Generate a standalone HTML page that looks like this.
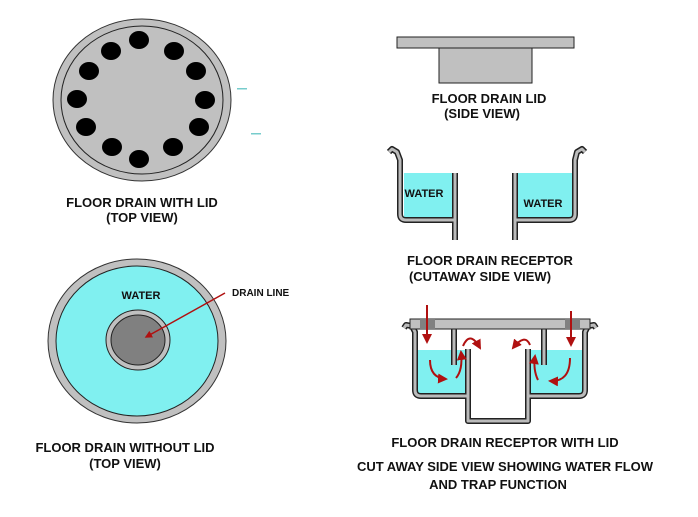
<!DOCTYPE html>
<html><head><meta charset="utf-8"><style>
html,body{margin:0;padding:0;background:#fff;}
svg{display:block;}
text{font-family:"Liberation Sans",Arial,sans-serif;font-weight:bold;fill:#111;}
</style></head><body>
<svg width="698" height="517" viewBox="0 0 698 517" xmlns="http://www.w3.org/2000/svg">
<defs>
<marker id="ah" viewBox="0 0 10 10" refX="8" refY="5" markerWidth="5" markerHeight="5" orient="auto"><path d="M0,0 L10,5 L0,10 z" fill="#b01010"/></marker>
</defs>
<!-- top view with lid -->
<ellipse cx="142" cy="100" rx="89" ry="81" fill="#c0c0c0" stroke="#333" stroke-width="1"/>
<ellipse cx="142" cy="100" rx="81" ry="74" fill="#c0c0c0" stroke="#222" stroke-width="1"/>
<g fill="#000">
<ellipse cx="139" cy="40" rx="10" ry="9"/><ellipse cx="111" cy="51" rx="10" ry="9"/><ellipse cx="174" cy="51" rx="10" ry="9"/>
<ellipse cx="89" cy="71" rx="10" ry="9"/><ellipse cx="196" cy="71" rx="10" ry="9"/><ellipse cx="77" cy="99" rx="10" ry="9"/>
<ellipse cx="205" cy="100" rx="10" ry="9"/><ellipse cx="86" cy="127" rx="10" ry="9"/><ellipse cx="199" cy="127" rx="10" ry="9"/>
<ellipse cx="112" cy="147" rx="10" ry="9"/><ellipse cx="173" cy="147" rx="10" ry="9"/><ellipse cx="139" cy="159" rx="10" ry="9"/>
</g>
<rect x="237" y="88" width="10" height="1.5" fill="#7cc"/><rect x="251" y="133" width="10" height="1.5" fill="#7cc"/>
<text x="142" y="207" font-size="13" text-anchor="middle">FLOOR DRAIN WITH LID</text>
<text x="142" y="222" font-size="13" text-anchor="middle">(TOP VIEW)</text>

<!-- top view without lid -->
<ellipse cx="137" cy="341" rx="89" ry="82" fill="#c0c0c0" stroke="#333" stroke-width="1"/>
<ellipse cx="137" cy="341" rx="81" ry="75" fill="#80f0f0" stroke="#222" stroke-width="1"/>
<ellipse cx="138" cy="340" rx="32" ry="30" fill="#c0c0c0" stroke="#222" stroke-width="1"/>
<ellipse cx="138" cy="340" rx="27" ry="25" fill="#808080" stroke="#222" stroke-width="1"/>
<text x="141" y="299" font-size="11" text-anchor="middle">WATER</text>
<line x1="225" y1="293" x2="146" y2="337" stroke="#b01010" stroke-width="1.5" marker-end="url(#ah)"/>
<text x="232" y="296" font-size="10">DRAIN LINE</text>
<text x="125" y="452" font-size="13" text-anchor="middle">FLOOR DRAIN WITHOUT LID</text>
<text x="125" y="468" font-size="13" text-anchor="middle">(TOP VIEW)</text>

<!-- lid side view -->
<rect x="397" y="37" width="177" height="11" fill="#c0c0c0" stroke="#222" stroke-width="1"/>
<rect x="439" y="48" width="93" height="35" fill="#c0c0c0" stroke="#222" stroke-width="1"/>
<text x="489" y="103" font-size="13" text-anchor="middle">FLOOR DRAIN LID</text>
<text x="482" y="118" font-size="13" text-anchor="middle">(SIDE VIEW)</text>

<!-- receptor cutaway -->
<rect x="404" y="173" width="49" height="45" fill="#80f0f0"/>
<rect x="517" y="173" width="56" height="45" fill="#80f0f0"/>
<g fill="none" stroke-linejoin="round">
<path d="M389,152 L392,149 L397,152 L400,160 L400,214 Q400,220 406,220 L455,220 L455,240 M455,220 L455,173" stroke="#222" stroke-width="6"/>
<path d="M389,152 L392,149 L397,152 L400,160 L400,214 Q400,220 406,220 L455,220 L455,240 M455,220 L455,173" stroke="#bbb" stroke-width="3"/>
<path d="M585,152 L582,149 L577,152 L575,160 L575,214 Q575,220 569,220 L515,220 L515,240 M515,220 L515,173" stroke="#222" stroke-width="6"/>
<path d="M585,152 L582,149 L577,152 L575,160 L575,214 Q575,220 569,220 L515,220 L515,240 M515,220 L515,173" stroke="#bbb" stroke-width="3"/>
</g>
<text x="424" y="197" font-size="11" text-anchor="middle">WATER</text>
<text x="543" y="207" font-size="11" text-anchor="middle">WATER</text>
<text x="490" y="265" font-size="13" text-anchor="middle">FLOOR DRAIN RECEPTOR</text>
<text x="480" y="281" font-size="13" text-anchor="middle">(CUTAWAY SIDE VIEW)</text>

<!-- receptor with lid -->
<rect x="417" y="350" width="49" height="44" fill="#80f0f0"/>
<rect x="530" y="350" width="53" height="44" fill="#80f0f0"/>
<g fill="none" stroke-linejoin="round">
<path d="M404,328 L406,325 L412,326 L415,332 L415,390 Q415,396 421,396 L468,396 L468,421 L528,421 L528,396 L579,396 Q585,396 585,390 L585,332 L588,326 L594,325 L596,328 M468,396 L468,349 M528,396 L528,349 M454,329 L454,365 M544,329 L544,365" stroke="#222" stroke-width="6"/>
<path d="M404,328 L406,325 L412,326 L415,332 L415,390 Q415,396 421,396 L468,396 L468,421 L528,421 L528,396 L579,396 Q585,396 585,390 L585,332 L588,326 L594,325 L596,328 M468,396 L468,349 M528,396 L528,349 M454,329 L454,365 M544,329 L544,365" stroke="#bbb" stroke-width="3"/>
</g>
<rect x="410" y="319" width="180" height="10" fill="#c0c0c0" stroke="#222" stroke-width="1"/>
<rect x="420" y="319" width="15" height="10" fill="#808080"/>
<rect x="565" y="319" width="15" height="10" fill="#808080"/>
<g fill="none" stroke="#b01010" stroke-width="2" marker-end="url(#ah)">
<path d="M427,305 L427,342"/>
<path d="M571,311 L571,345"/>
<path d="M430,360 Q430,378 446,379"/>
<path d="M456,378 Q463,370 461,352"/>
<path d="M463,346 Q470,330 480,348"/>
<path d="M570,358 Q570,382 550,381"/>
<path d="M538,380 Q533,370 535,356"/>
<path d="M530,345 Q525,333 513,348"/>
</g>
<text x="505" y="447" font-size="13" text-anchor="middle">FLOOR DRAIN RECEPTOR WITH LID</text>
<text x="505" y="471" font-size="13" text-anchor="middle">CUT AWAY SIDE VIEW SHOWING WATER FLOW</text>
<text x="498" y="489" font-size="13" text-anchor="middle">AND TRAP FUNCTION</text>
</svg>
</body></html>
